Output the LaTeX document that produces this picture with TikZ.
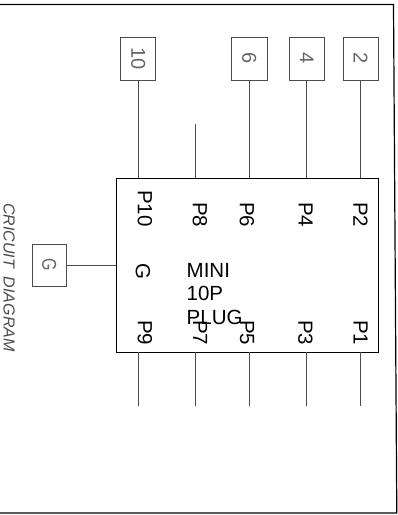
\documentclass[tikz,border=0pt]{standalone}
\usepackage{fontspec}
\setmainfont{Liberation Sans}
\tikzset{
  x=1pt,y=-1pt,
  wire/.style={draw=black!70,line width=0.8pt},
  pinbox/.style={draw=black!70,line width=0.9pt,inner sep=0pt},
  pinlab/.style={rotate=-90,font=\fontsize{20.5}{20.5}\selectfont,inner sep=0pt,anchor=north west,text=black},
  boxlab/.style={rotate=-90,font=\fontsize{20}{20}\selectfont,text=black!60,inner sep=0pt},
  mainlab/.style={font=\fontsize{20.5}{20.5}\selectfont,inner sep=0pt,anchor=base west,text=black}
}
\begin{document}
\begin{tikzpicture}
\useasboundingbox (0,0) rectangle (398,515);
\fill[white] (0,0) rectangle (398,515);
\draw[line width=1.2pt] (0,4.5) -- (393.5,4.5) -- (396.8,513) -- (0,513);
\node[draw=black,line width=0.8pt,minimum width=261.5pt,minimum height=174pt,inner sep=0pt] (plug) at (247.25,265) {};
\node[pinbox,minimum width=35pt,minimum height=43pt] (b10) at (138.2,58.5) {};
\node[pinbox,minimum width=35.3pt,minimum height=43pt] (b6) at (249.3,58.5) {};
\node[pinbox,minimum width=34.3pt,minimum height=43pt] (b4) at (306.8,58.5) {};
\node[pinbox,minimum width=34.7pt,minimum height=43pt] (b2) at (360.6,58.5) {};
\node[pinbox,minimum width=34.5pt,minimum height=42.5pt] (bg) at (49.2,265.2) {};
\node[boxlab] at (b10) {10};
\node[boxlab] at (b6) {6};
\node[boxlab] at (b4) {4};
\node[boxlab] at (b2) {2};
\node[boxlab,xscale=0.8] at (bg) {G};
\coordinate (e8) at (195.7,124);
\foreach \n/\x in {o9/138.2,o7/195.7,o5/249.3,o3/306.8,o1/360.5}{
  \coordinate (\n) at (\x,406);
}
\draw[wire] (b10.south) -- (b10.south |- plug.north);
\draw[wire] (e8) -- (e8 |- plug.north);
\draw[wire] (b6.south) -- (b6.south |- plug.north);
\draw[wire] (b4.south) -- (b4.south |- plug.north);
\draw[wire] (b2.south) -- (b2.south |- plug.north);
\draw[wire] (bg.east) -- (bg.east -| plug.west);
\foreach \n in {o9,o7,o5,o3,o1}{\draw[wire] (\n) -- (\n |- plug.south);}
\node[pinlab] (p10) at (152.5,190) {P10};
\node[pinlab] (p8) at (207.5,202) {P8};
\node[pinlab] (p6) at (254.5,202) {P6};
\node[pinlab] (p4) at (313,202) {P4};
\node[pinlab] (p2) at (368,202) {P2};
\node[pinlab] (g) at (150.5,263) {G};
\node[pinlab] (p9) at (152.5,320) {P9};
\node[pinlab] (p7) at (207.5,320) {P7};
\node[pinlab] (p5) at (254.5,320) {P5};
\node[pinlab] (p3) at (313,320) {P3};
\node[pinlab] (p1) at (368,320) {P1};
\node[mainlab] (m1) at (186.5,277) {MINI};
\node[mainlab] (m2) at (186.5,300.5) {10P};
\node[mainlab] (m3) at (186.5,324) {PLUG};
\node[rotate=-90,anchor=north west,inner sep=0pt,font=\fontsize{16}{16}\selectfont\itshape,text=black!70] (title) at (15,203) {CRICUIT\ \ DIAGRAM};
\end{tikzpicture}
\end{document}
